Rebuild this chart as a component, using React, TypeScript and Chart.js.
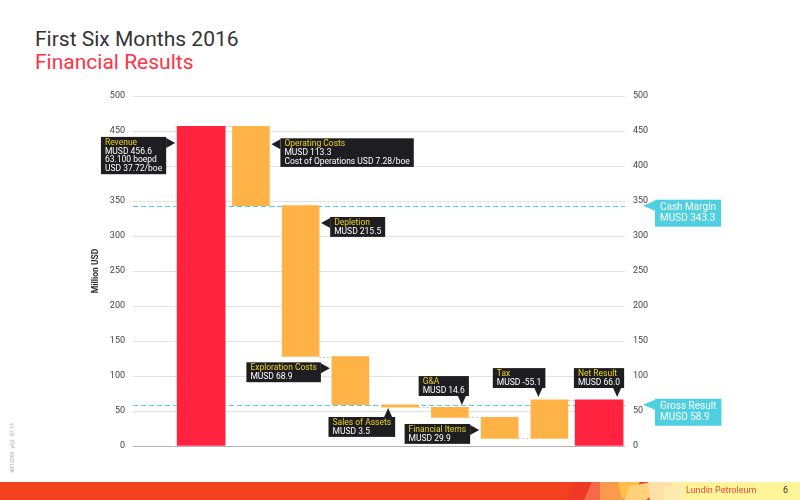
import { Chart, registerables } from "chart.js";
import type { Plugin } from "chart.js";
import { useEffect, useRef } from "react";

Chart.register(...registerables);

const categories = [
  "Revenue",
  "Operating Costs",
  "Depletion",
  "Exploration Costs",
  "Sales of Assets",
  "G&A",
  "Financial Items",
  "Tax",
  "Net Result",
];
// signed contribution of each step, MUSD
const changes = [456.6, -113.3, -215.5, -68.9, -3.5, -14.6, -29.9, 55.1, 66.0];
const isTotal = [true, false, false, false, false, false, false, false, true];
const calloutDetails = [
  ["MUSD 456.6", "63.100 boepd", "USD 37.72/boe"],
  ["MUSD 113.3", "Cost of Operations USD 7.28/boe"],
  ["MUSD 215.5"],
  ["MUSD 68.9"],
  ["MUSD 3.5"],
  ["MUSD 14.6"],
  ["MUSD 29.9"],
  ["MUSD -55.1"],
  ["MUSD 66.0"],
];
const calloutSide = ["left", "right", "right", "left", "below", "above", "left", "above", "above"];
// y value the callout arrow points at
const calloutTarget = [433, 431, 318.6, 111, 54.3, 58.6, 22.9, 70, 70];
// horizontal nudge (px) of the arrow for callouts above / below a bar
const calloutNudge = [0, 0, 0, 0, -12, 12, 0, -11, 18];

const marginNames = ["Cash Margin", "Gross Result"];
const marginValues = [343.3, 58.9];

const yMin = 0;
const yMax = 500;
const yStep = 50;

const RED = "#FF2340";
const ORANGE = "#FFB347";
const CYAN = "#4FD0E2";
const DARK = "#1E1E22";
const YELLOW = "#EFD31C";
const FONT = "Roboto, 'Open Sans', sans-serif";
const TOTAL_W = 48;
const STEP_W = 37;

// floating [from, to] range of each bar
const ranges: [number, number][] = [];
{
  let level = 0;
  changes.forEach((c, i) => {
    if (isTotal[i]) {
      ranges.push([0, c]);
      level = c;
    } else {
      ranges.push([level, +(level + c).toFixed(1)]);
      level = +(level + c).toFixed(1);
    }
  });
}

type Side = "left" | "right" | "above" | "below";

function drawCallout(
  ctx: CanvasRenderingContext2D,
  tipX: number,
  tipY: number,
  side: Side,
  title: string,
  lines: string[],
  fill: string,
  titleColor: string,
  size: number,
  lh: number,
  gap: number,
) {
  ctx.save();
  ctx.font = `${size}px ${FONT}`;
  const texts = [title, ...lines];
  const tw = Math.max(...texts.map((t) => ctx.measureText(t).width));
  const padX = size > 9 ? 5 : 4;
  const w = tw + padX * 2;
  const h = texts.length * lh + (size > 9 ? 5 : 2.5);
  let bx = 0;
  let by = 0;
  if (side === "left") {
    bx = tipX - gap - w;
    by = tipY - 6;
  } else if (side === "right") {
    bx = tipX + gap;
    by = tipY - 6;
  } else if (side === "above") {
    bx = tipX + 7 - w;
    by = tipY - gap - h;
  } else {
    bx = tipX + 7 - w;
    by = tipY + gap;
  }
  ctx.fillStyle = fill;
  ctx.fillRect(bx, by, w, h);
  ctx.beginPath();
  ctx.moveTo(tipX, tipY);
  if (side === "left") {
    ctx.lineTo(bx + w, tipY - 5);
    ctx.lineTo(bx + w, tipY + 5);
  } else if (side === "right") {
    ctx.lineTo(bx, tipY - 5);
    ctx.lineTo(bx, tipY + 5);
  } else if (side === "above") {
    ctx.lineTo(tipX - 4, by + h);
    ctx.lineTo(tipX + 4, by + h);
  } else {
    ctx.lineTo(tipX - 4, by);
    ctx.lineTo(tipX + 4, by);
  }
  ctx.closePath();
  ctx.fill();
  ctx.textAlign = "left";
  ctx.textBaseline = "alphabetic";
  const first = by + (size > 9 ? 10.5 : 8);
  texts.forEach((t, k) => {
    ctx.fillStyle = k === 0 ? titleColor : "#FFFFFF";
    ctx.fillText(t, bx + padX, first + k * lh);
  });
  ctx.restore();
}

const waterfallOverlay: Plugin<"bar"> = {
  id: "waterfallOverlay",
  beforeDraw(chart) {
    const { ctx } = chart;
    ctx.save();
    // footer band
    ctx.fillStyle = "#F4421F";
    ctx.fillRect(0, 482, 800, 18);
    ctx.fillStyle = "#FFF49A";
    ctx.fillRect(672, 482, 128, 18);
    const shards: [string, number[][]][] = [
      ["#EE3A24", [[572, 482], [598, 482], [588, 500], [566, 500]]],
      ["#F66A4C", [[592, 482], [606, 482], [612, 492], [600, 500], [584, 500]]],
      ["#F99A4C", [[600, 482], [628, 482], [622, 500], [600, 500]]],
      ["#FFBE4A", [[618, 482], [640, 482], [632, 494], [622, 500]]],
      ["#FFD27A", [[630, 486], [652, 482], [660, 490], [646, 500], [624, 500]]],
      ["#FFE0A6", [[648, 482], [672, 482], [676, 492], [666, 500], [650, 500]]],
      ["#FFEBB0", [[664, 488], [680, 482], [684, 500], [664, 500]]],
    ];
    shards.forEach(([c, pts]) => {
      ctx.fillStyle = c;
      ctx.beginPath();
      pts.forEach(([x, y], k) => (k ? ctx.lineTo(x, y) : ctx.moveTo(x, y)));
      ctx.closePath();
      ctx.fill();
    });
    ctx.font = `9px ${FONT}`;
    ctx.textBaseline = "middle";
    ctx.fillStyle = "#F2453A";
    ctx.fillText("Lundin Petroleum", 686, 491);
    ctx.fillStyle = "#333";
    ctx.fillText("6", 783, 491);
    // side reference text
    ctx.translate(13, 448);
    ctx.rotate(-Math.PI / 2);
    ctx.font = `5px ${FONT}`;
    ctx.fillStyle = "#AAA";
    ctx.textAlign = "center";
    ctx.fillText("WF12208   p62   07.16", 0, 0);
    ctx.restore();
  },
  beforeDatasetsDraw(chart) {
    const { ctx, chartArea } = chart;
    const xs = chart.scales.x;
    const ys = chart.scales.y;
    ctx.save();
    ctx.lineWidth = 1;
    // connectors between bars
    ctx.strokeStyle = "#C8C8C8";
    ctx.setLineDash([2, 2]);
    for (let i = 0; i < categories.length - 1; i++) {
      const y = Math.round(ys.getPixelForValue(ranges[i][1])) + 0.5;
      const wA = isTotal[i] ? TOTAL_W : STEP_W;
      const wB = isTotal[i + 1] ? TOTAL_W : STEP_W;
      ctx.beginPath();
      ctx.moveTo(xs.getPixelForValue(i) + wA / 2, y);
      ctx.lineTo(xs.getPixelForValue(i + 1) - wB / 2, y);
      ctx.stroke();
    }
    // margin reference lines
    ctx.strokeStyle = CYAN;
    ctx.setLineDash([5, 3]);
    marginValues.forEach((v) => {
      const y = Math.round(ys.getPixelForValue(v)) + 0.5;
      ctx.beginPath();
      ctx.moveTo(chartArea.left, y);
      ctx.lineTo(chartArea.right, y);
      ctx.stroke();
    });
    ctx.restore();
  },
  afterDatasetsDraw(chart) {
    const { ctx, chartArea } = chart;
    const xs = chart.scales.x;
    const ys = chart.scales.y;
    categories.forEach((name, i) => {
      const side = calloutSide[i] as Side;
      const cx = xs.getPixelForValue(i);
      const half = (isTotal[i] ? TOTAL_W : STEP_W) / 2;
      const ty = ys.getPixelForValue(calloutTarget[i]);
      let tx = cx + calloutNudge[i];
      if (side === "left") tx = cx - half - 2;
      if (side === "right") tx = cx + half + 2;
      drawCallout(ctx, tx, ty, side, name, calloutDetails[i], DARK, YELLOW, 8.5, 8.7, 9);
    });
    marginNames.forEach((name, k) => {
      const v = marginValues[k];
      drawCallout(
        ctx,
        chartArea.right + 18,
        ys.getPixelForValue(v),
        "right",
        name,
        [`MUSD ${v.toFixed(1)}`],
        CYAN,
        "#FFFFFF",
        10,
        11,
        12,
      );
    });
    ctx.save();
    ctx.translate(96, (chartArea.top + chartArea.bottom) / 2);
    ctx.rotate(-Math.PI / 2);
    ctx.font = `bold 8.5px ${FONT}`;
    ctx.fillStyle = "#333";
    ctx.textAlign = "center";
    ctx.textBaseline = "middle";
    ctx.fillText("Million USD", 0, 0);
    ctx.restore();
  },
};

export default function App() {
  const canvasRef = useRef<HTMLCanvasElement | null>(null);
  const chartRef = useRef<Chart | null>(null);

  useEffect(() => {
    const canvas = canvasRef.current;
    if (!canvas) {
      return;
    }
    const ctx = canvas.getContext("2d");
    if (!ctx) {
      return;
    }

    const totalPoints = categories
      .map((_, i) => ({ x: i, y: ranges[i] }))
      .filter((_, i) => isTotal[i]);
    const stepPoints = categories
      .map((_, i) => ({ x: i, y: ranges[i] }))
      .filter((_, i) => !isTotal[i]);
    const tickFont = { family: FONT, size: 9 };

    chartRef.current?.destroy();
    chartRef.current = new Chart(ctx, {
      type: "bar",
      data: {
        datasets: [
          {
            label: "Totals",
            data: totalPoints as any,
            backgroundColor: RED,
            barThickness: TOTAL_W,
            grouped: false,
          },
          {
            label: "Steps",
            data: stepPoints as any,
            backgroundColor: ORANGE,
            barThickness: STEP_W,
            grouped: false,
          },
        ],
      },
      options: {
        responsive: false,
        animation: false,
        layout: { padding: { top: 96, bottom: 54, left: 0, right: 0 } },
        plugins: {
          legend: { display: false },
          tooltip: { enabled: false },
        },
        scales: {
          x: {
            type: "linear",
            display: false,
            offset: false,
            min: -1.37,
            max: 8.52,
          },
          y: {
            position: "left",
            min: yMin,
            max: yMax,
            border: { display: false },
            grid: {
              drawTicks: false,
              color: (c) => (c.tick && c.tick.value === 0 ? "#B4B4B4" : "#E2E2E2"),
            },
            ticks: { stepSize: yStep, padding: 8, color: "#444", font: tickFont },
            afterFit: (scale) => {
              scale.width = 133;
            },
          },
          y2: {
            position: "right",
            min: yMin,
            max: yMax,
            border: { display: false },
            grid: { display: false, drawTicks: false },
            ticks: { stepSize: yStep, padding: 8, color: "#444", font: tickFont },
            afterFit: (scale) => {
              scale.width = 175;
            },
          },
        },
      },
      plugins: [waterfallOverlay],
    });

    return () => {
      chartRef.current?.destroy();
      chartRef.current = null;
    };
  }, []);

  return (
    <div
      style={{
        position: "absolute",
        left: 0,
        top: 0,
        width: 800,
        height: 500,
        background: "#fff",
        fontFamily: FONT,
      }}
    >
      <div
        style={{
          position: "absolute",
          left: 35,
          top: 29,
          fontSize: 21,
          lineHeight: 1,
          color: "#333",
          whiteSpace: "nowrap",
        }}
      >
        First Six Months 2016
      </div>
      <div
        style={{
          position: "absolute",
          left: 35,
          top: 52,
          fontSize: 21,
          lineHeight: 1,
          color: "#FF3344",
          whiteSpace: "nowrap",
        }}
      >
        Financial Results
      </div>
      <canvas ref={canvasRef} width={800} height={500} style={{ position: "absolute", left: 0, top: 0 }} />
    </div>
  );
}
